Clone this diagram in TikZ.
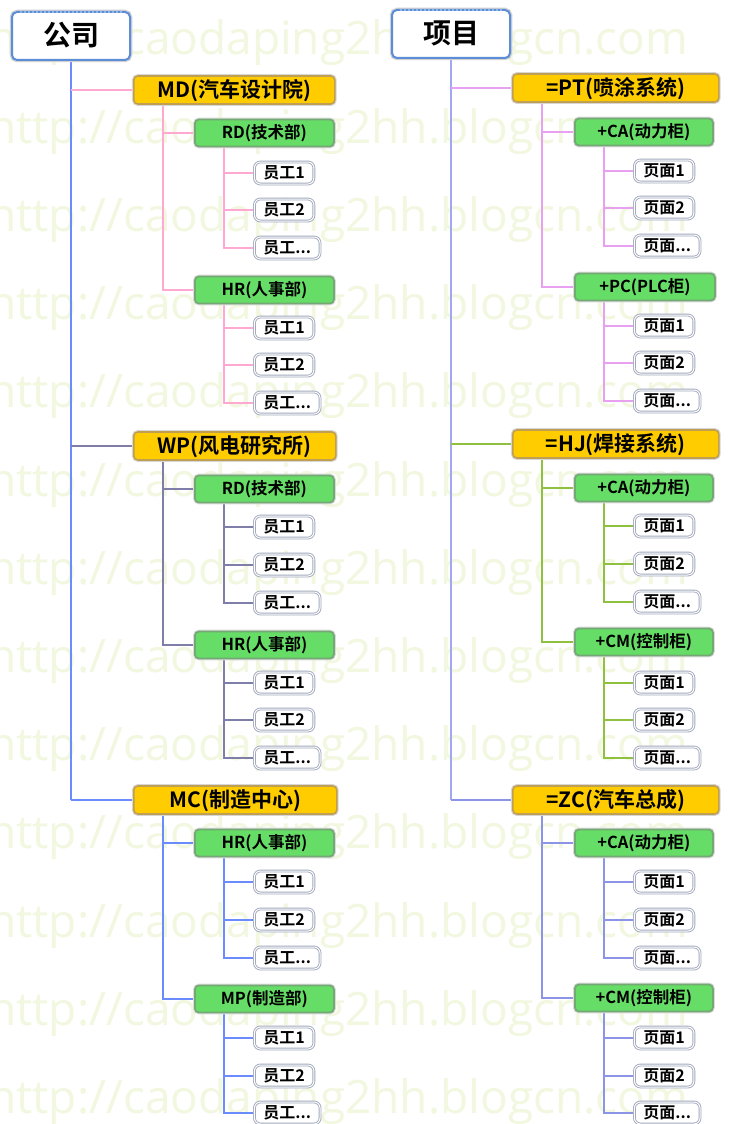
\documentclass[tikz,border=0pt]{standalone}
\usepackage{fontspec}
\setmainfont{Noto Sans CJK SC}[BoldFont={Noto Sans CJK SC Bold}]
\newfontfamily\wmfont{Open Sans}
\definecolor{gold}{HTML}{FFCC00}
\definecolor{goldline}{HTML}{C0A050}
\definecolor{grn}{HTML}{66DD66}
\definecolor{grnline}{HTML}{74A874}
\definecolor{leafline}{HTML}{A2A9BE}
\definecolor{rootline}{HTML}{5B8ED6}
\definecolor{rootdot}{HTML}{8FB5E8}
\definecolor{wmcol}{HTML}{F2F7E0}
\definecolor{cBlue}{HTML}{6B8CFF}
\definecolor{cPink}{HTML}{FFA8D2}
\definecolor{cSlate}{HTML}{7E7EA8}
\definecolor{cLav}{HTML}{A0A8F0}
\definecolor{cViolet}{HTML}{E8A0F0}
\definecolor{cLime}{HTML}{90C040}
\definecolor{cLavB}{HTML}{8C94E8}
\pgfdeclarelayer{wm}
\pgfdeclarelayer{conn}
\pgfsetlayers{wm,conn,main}
\newcommand\threeleaves[6]{%
  \node[leaf] (#1-1) at (#2,#3) {#61};
  \node[leaf] (#1-2) at (#2,#4) {#62};
  \node[leaf] (#1-3) at (#2,#5) {#6...};}
\newcommand\kidlinks[3]{%
  \foreach \c in {#3} \draw[conn,#1] ([xshift=30pt]#2.south west) |- (\c.west);}
\tikzset{
  rootbox/.style={draw=rootline, line width=2pt, fill=white, rounded corners=5pt,
    minimum width=118pt, minimum height=48pt, inner sep=0pt,
    font=\fontsize{28}{28}\selectfont\bfseries, text height=22.5pt, text depth=3.5pt,
    preaction={draw=black!18, line width=4.5pt}},
  lone/.style={draw=goldline, line width=1.6pt, fill=gold, rounded corners=4pt,
    minimum height=28pt, inner sep=0pt, anchor=west,
    font=\fontsize{21}{21}\selectfont\bfseries, text height=17pt, text depth=2.5pt,
    preaction={draw=black!16, line width=3.8pt}},
  ltwo/.style={draw=grnline, line width=1.8pt, fill=grn, rounded corners=4pt,
    minimum height=27pt, inner sep=0pt, anchor=west,
    font=\fontsize{16.5}{16.5}\selectfont\bfseries, text height=13.5pt, text depth=2pt,
    preaction={draw=black!14, line width=3.8pt}},
  leaf/.style={draw=leafline, line width=0.9pt, double=white, double distance=1pt,
    fill=white, rounded corners=6pt, minimum height=22pt, inner xsep=9pt, inner ysep=0pt,
    anchor=west, font=\fontsize{16}{16}\selectfont\bfseries, text height=13pt, text depth=2pt},
  conn/.style={line width=1.5pt},
  wmtext/.style={anchor=base west, text=wmcol, inner sep=0pt,
    font=\wmfont\fontsize{46}{46}\selectfont}
}
\begin{document}
\begin{tikzpicture}[x=1pt,y=-1pt]
\useasboundingbox (0,0) rectangle (737,1124);
% watermark
\begin{pgfonlayer}{wm}
\fill[white] (0,0) rectangle (737,1124);
\foreach \k in {0,...,12}
  \node[wmtext] (wm\k) at ({-12},{55+88.2*\k}) {http://caodaping2hh.blogcn.com};
\end{pgfonlayer}
% ---------- left tree ----------
\node[rootbox] (lroot) at (71,36) {公司};
\draw[rootdot, line width=1.8pt, dash pattern=on 2pt off 2pt]
  ([xshift=9pt,yshift=-1pt]lroot.north west) -- ([xshift=-9pt,yshift=-1pt]lroot.north east);
\node[lone, minimum width=201pt] (md) at (133,90) {MD(汽车设计院)};
\node[lone, minimum width=202pt] (wp) at (133,446) {WP(风电研究所)};
\node[lone, minimum width=203pt] (mc) at (133,800) {MC(制造中心)};
\node[ltwo, minimum width=139pt] (md1) at (194,133) {RD(技术部)};
\node[ltwo, minimum width=139pt] (md2) at (194,290) {HR(人事部)};
\node[ltwo, minimum width=139pt] (wp1) at (194,489) {RD(技术部)};
\node[ltwo, minimum width=139pt] (wp2) at (194,645) {HR(人事部)};
\node[ltwo, minimum width=139pt] (mc1) at (194,843) {HR(人事部)};
\node[ltwo, minimum width=139pt] (mc2) at (194,999) {MP(制造部)};
\threeleaves{md1}{254}{173}{210}{248}{员工}
\threeleaves{md2}{254}{328}{365}{403}{员工}
\threeleaves{wp1}{254}{527}{565}{603}{员工}
\threeleaves{wp2}{254}{683}{720}{758}{员工}
\threeleaves{mc1}{254}{882}{920}{958}{员工}
\threeleaves{mc2}{254}{1038}{1076}{1113}{员工}
% ---------- right tree ----------
\node[rootbox] (rroot) at (451,34) {项目};
\draw[rootdot, line width=1.8pt, dash pattern=on 2pt off 2pt]
  ([xshift=9pt,yshift=-1pt]rroot.north west) -- ([xshift=-9pt,yshift=-1pt]rroot.north east);
\node[lone, minimum width=206pt] (pt) at (512,88) {=PT(喷涂系统)};
\node[lone, minimum width=206pt] (hj) at (512,444) {=HJ(焊接系统)};
\node[lone, minimum width=206pt] (zc) at (512,800) {=ZC(汽车总成)};
\node[ltwo, minimum width=138pt] (pt1) at (574,132) {+CA(动力柜)};
\node[ltwo, minimum width=140pt] (pt2) at (574,287) {+PC(PLC柜)};
\node[ltwo, minimum width=138pt] (hj1) at (574,488) {+CA(动力柜)};
\node[ltwo, minimum width=138pt] (hj2) at (574,642) {+CM(控制柜)};
\node[ltwo, minimum width=138pt] (zc1) at (574,843) {+CA(动力柜)};
\node[ltwo, minimum width=138pt] (zc2) at (574,998) {+CM(控制柜)};
\threeleaves{pt1}{634}{171}{208}{246}{页面}
\threeleaves{pt2}{634}{326}{363}{401}{页面}
\threeleaves{hj1}{634}{526}{564}{602}{页面}
\threeleaves{hj2}{634}{683}{720}{758}{页面}
\threeleaves{zc1}{634}{882}{920}{958}{页面}
\threeleaves{zc2}{634}{1038}{1076}{1113}{页面}
% ---------- connectors ----------
\begin{pgfonlayer}{conn}
\draw[conn,cBlue] (lroot.south) -- (lroot.south |- mc.west);
\draw[conn,cPink] (lroot.south |- md.west) -- (md.west);
\draw[conn,cSlate] (lroot.south |- wp.west) -- (wp.west);
\draw[conn,cBlue] (lroot.south |- mc.west) -- (mc.west);
\kidlinks{cPink}{md}{md1,md2}
\kidlinks{cPink}{md1}{md1-1,md1-2,md1-3}
\kidlinks{cPink}{md2}{md2-1,md2-2,md2-3}
\kidlinks{cSlate}{wp}{wp1,wp2}
\kidlinks{cSlate}{wp1}{wp1-1,wp1-2,wp1-3}
\kidlinks{cSlate}{wp2}{wp2-1,wp2-2,wp2-3}
\kidlinks{cBlue}{mc}{mc1,mc2}
\kidlinks{cBlue}{mc1}{mc1-1,mc1-2,mc1-3}
\kidlinks{cBlue}{mc2}{mc2-1,mc2-2,mc2-3}
\draw[conn,cLav] (rroot.south) -- (rroot.south |- zc.west);
\draw[conn,cViolet] (rroot.south |- pt.west) -- (pt.west);
\draw[conn,cLime] (rroot.south |- hj.west) -- (hj.west);
\draw[conn,cLavB] (rroot.south |- zc.west) -- (zc.west);
\kidlinks{cViolet}{pt}{pt1,pt2}
\kidlinks{cViolet}{pt1}{pt1-1,pt1-2,pt1-3}
\kidlinks{cViolet}{pt2}{pt2-1,pt2-2,pt2-3}
\kidlinks{cLime}{hj}{hj1,hj2}
\kidlinks{cLime}{hj1}{hj1-1,hj1-2,hj1-3}
\kidlinks{cLime}{hj2}{hj2-1,hj2-2,hj2-3}
\kidlinks{cLavB}{zc}{zc1,zc2}
\kidlinks{cLavB}{zc1}{zc1-1,zc1-2,zc1-3}
\kidlinks{cLavB}{zc2}{zc2-1,zc2-2,zc2-3}
\end{pgfonlayer}
\end{tikzpicture}
\end{document}
